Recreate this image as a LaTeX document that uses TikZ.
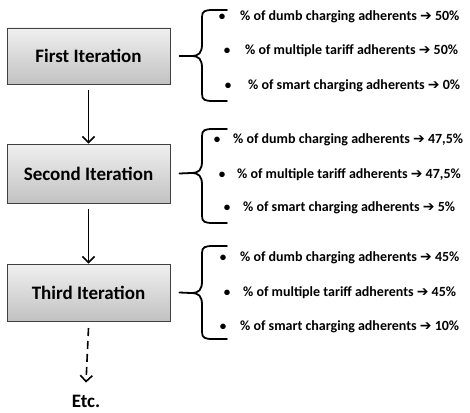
\documentclass[tikz,border=0pt]{standalone}
\usepackage{fontspec}
\setmainfont{Carlito}
\newfontfamily\symfont{DejaVu Sans}
\usetikzlibrary{arrows.meta}
\newcommand{\rarr}{{\symfont\bfseries\char"2794}}
\tikzset{
  iterbox/.style={draw=black!75, line width=0.8pt, top color=black!6, bottom color=black!24,
    minimum width=163pt, minimum height=56pt, font=\fontsize{19}{21}\selectfont\bfseries, inner sep=0pt},
  item/.style={anchor=west, inner sep=0pt, font=\fontsize{14}{16}\selectfont\bfseries},
  bul/.style={inner sep=0pt, font=\fontsize{13}{15}\selectfont\bfseries},
  flow/.style={line width=1.6pt, -{Straight Barb[length=6pt,width=12pt,line width=1.6pt]}},
  bracestyle/.style={line width=1.8pt, line cap=round},
}
\begin{document}
\begin{tikzpicture}[x=1pt,y=-1pt]
\useasboundingbox (0,0) rectangle (470,412);

\node[iterbox] (b1) at (88.5,56) {First Iteration};
\node[iterbox, minimum height=59pt] (b2) at (88.5,173.5) {Second Iteration};
\node[iterbox, minimum height=57pt] (b3) at (88.5,292.5) {Third Iteration};
\node[inner sep=0pt, font=\fontsize{19}{21}\selectfont\bfseries] (etc) at (86,401) {Etc.};

\coordinate (a1s) at (88.5,90);
\coordinate (a2s) at (88.5,209);
\coordinate (a3s) at (88.5,328);
\draw[flow] (a1s) -- (b2.north);
\draw[flow] (a2s) -- (b3.north);
\draw[flow, dash pattern=on 8pt off 5pt] (a3s) -- ([yshift=12pt]etc.north);

% braces
\foreach \c/\t/\b/\n in {56/10/101/1, 173/129/223/2, 293/246/339/3}{
  \draw[bracestyle] (b\n.east) ++(9,0) coordinate (s\n) -- (191,\c)
    .. controls (199,\c) and (202,\c-3) .. (202,\c-12) -- (202,\t+7)
    .. controls (202,\t+1) and (205,\t) .. (213,\t) -- (227,\t);
  \draw[bracestyle] (191,\c)
    .. controls (199,\c) and (202,\c+3) .. (202,\c+12) -- (202,\b-7)
    .. controls (202,\b-1) and (205,\b) .. (213,\b) -- (227,\b);
}

% group 1
\node[bul] (p11) at (222,17) {•};
\node[item] (t11) at (240,17) {\% of dumb charging adherents \rarr\ 50\%};
\node[bul] (p12) at (227,51) {•};
\node[item] (t12) at (245,51) {\% of multiple tariff adherents \rarr\ 50\%};
\node[bul] (p13) at (228,86) {•};
\node[item] (t13) at (248,86) {\% of smart charging adherents \rarr\ 0\%};
% group 2
\node[bul] (p21) at (217,140) {•};
\node[item] (t21) at (233,140) {\% of dumb charging adherents \rarr\ 47,5\%};
\node[bul] (p22) at (222,175) {•};
\node[item] (t22) at (237,175) {\% of multiple tariff adherents \rarr\ 47,5\%};
\node[bul] (p23) at (227,208) {•};
\node[item] (t23) at (243,208) {\% of smart charging adherents \rarr\ 5\%};
% group 3
\node[bul] (p31) at (223,258) {•};
\node[item] (t31) at (240,258) {\% of dumb charging adherents \rarr\ 45\%};
\node[bul] (p32) at (227,293) {•};
\node[item] (t32) at (243,293) {\% of multiple tariff adherents \rarr\ 45\%};
\node[bul] (p33) at (223,327) {•};
\node[item] (t33) at (240,327) {\% of smart charging adherents \rarr\ 10\%};
\end{tikzpicture}
\end{document}
